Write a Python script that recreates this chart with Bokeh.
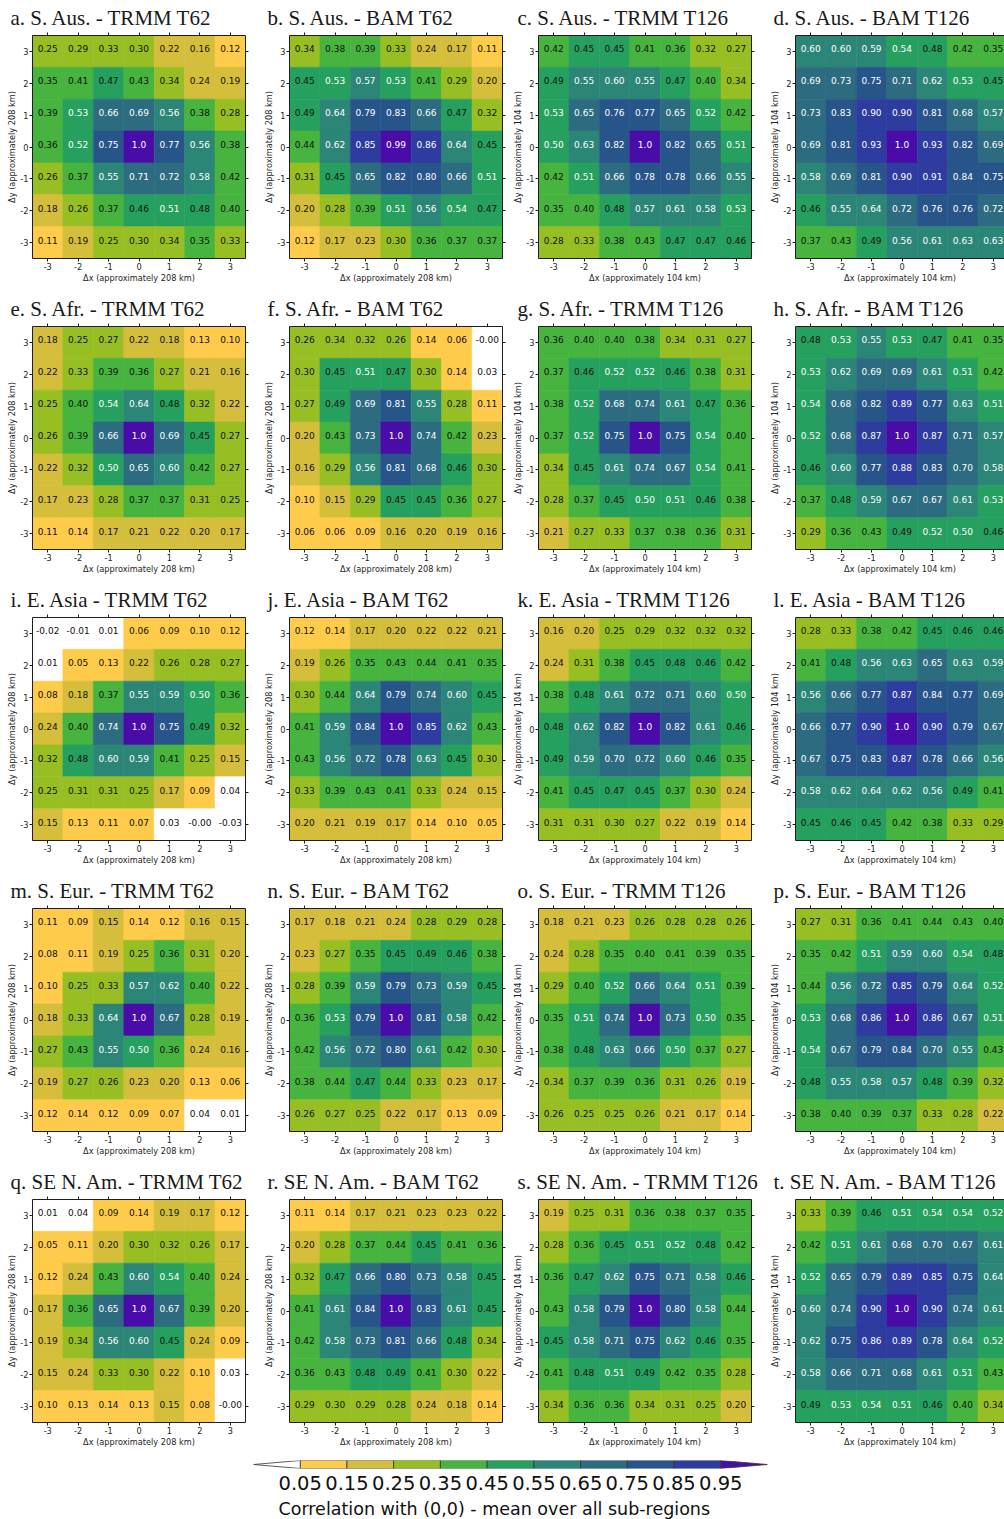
import bisect

from bokeh.core.properties import value
from bokeh.embed import file_html
from bokeh.layouts import column, row
from bokeh.models import ColumnDataSource, FixedTicker, LinearAxis, NumeralTickFormatter, Range1d, Title
from bokeh.plotting import figure
from bokeh.resources import INLINE

# grid offsets (in grid boxes) from the central box
offsets = [-3, -2, -1, 0, 1, 2, 3]
offset_labels = ["-3", "-2", "-1", "0", "1", "2", "3"]

# colour bands: below 0.05, one per 0.1-wide band, above 0.95
levels = [0.05, 0.15, 0.25, 0.35, 0.45, 0.55, 0.65, 0.75, 0.85, 0.95]
band_colors = ["#ffffff", "#fecb4a", "#d4be3c", "#97bf24", "#46b43f", "#26a05f",
               "#2c8677", "#2c6b80", "#27558a", "#2d3c9e", "#4a0ca8"]

titles = [
    "a. S. Aus. - TRMM T62", "b. S. Aus. - BAM T62", "c. S. Aus. - TRMM T126", "d. S. Aus. - BAM T126",
    "e. S. Afr. - TRMM T62", "f. S. Afr. - BAM T62", "g. S. Afr. - TRMM T126", "h. S. Afr. - BAM T126",
    "i. E. Asia - TRMM T62", "j. E. Asia - BAM T62", "k. E. Asia - TRMM T126", "l. E. Asia - BAM T126",
    "m. S. Eur. - TRMM T62", "n. S. Eur. - BAM T62", "o. S. Eur. - TRMM T126", "p. S. Eur. - BAM T126",
    "q. SE N. Am. - TRMM T62", "r. SE N. Am. - BAM T62", "s. SE N. Am. - TRMM T126", "t. SE N. Am. - BAM T126",
]
box_km = [208, 208, 104, 104]
colorbar_caption = "Correlation with (0,0) - mean over all sub-regions"

# correlation grids, rows from dy=3 (top) down to dy=-3, columns dx=-3..3
s_aus_trmm_t62 = [
    [0.25, 0.29, 0.33, 0.30, 0.22, 0.16, 0.12],
    [0.35, 0.41, 0.47, 0.43, 0.34, 0.24, 0.19],
    [0.39, 0.53, 0.66, 0.69, 0.56, 0.38, 0.28],
    [0.36, 0.52, 0.75, 1.0, 0.77, 0.56, 0.38],
    [0.26, 0.37, 0.55, 0.71, 0.72, 0.58, 0.42],
    [0.18, 0.26, 0.37, 0.46, 0.51, 0.48, 0.40],
    [0.11, 0.19, 0.25, 0.30, 0.34, 0.35, 0.33],
]
s_aus_bam_t62 = [
    [0.34, 0.38, 0.39, 0.33, 0.24, 0.17, 0.11],
    [0.45, 0.53, 0.57, 0.53, 0.41, 0.29, 0.20],
    [0.49, 0.64, 0.79, 0.83, 0.66, 0.47, 0.32],
    [0.44, 0.62, 0.85, 0.99, 0.86, 0.64, 0.45],
    [0.31, 0.45, 0.65, 0.82, 0.80, 0.66, 0.51],
    [0.20, 0.28, 0.39, 0.51, 0.56, 0.54, 0.47],
    [0.12, 0.17, 0.23, 0.30, 0.36, 0.37, 0.37],
]
s_aus_trmm_t126 = [
    [0.42, 0.45, 0.45, 0.41, 0.36, 0.32, 0.27],
    [0.49, 0.55, 0.60, 0.55, 0.47, 0.40, 0.34],
    [0.53, 0.65, 0.76, 0.77, 0.65, 0.52, 0.42],
    [0.50, 0.63, 0.82, 1.0, 0.82, 0.65, 0.51],
    [0.42, 0.51, 0.66, 0.78, 0.78, 0.66, 0.55],
    [0.35, 0.40, 0.48, 0.57, 0.61, 0.58, 0.53],
    [0.28, 0.33, 0.38, 0.43, 0.47, 0.47, 0.46],
]
s_aus_bam_t126 = [
    [0.60, 0.60, 0.59, 0.54, 0.48, 0.42, 0.35],
    [0.69, 0.73, 0.75, 0.71, 0.62, 0.53, 0.45],
    [0.73, 0.83, 0.90, 0.90, 0.81, 0.68, 0.57],
    [0.69, 0.81, 0.93, 1.0, 0.93, 0.82, 0.69],
    [0.58, 0.69, 0.81, 0.90, 0.91, 0.84, 0.75],
    [0.46, 0.55, 0.64, 0.72, 0.76, 0.76, 0.72],
    [0.37, 0.43, 0.49, 0.56, 0.61, 0.63, 0.63],
]
s_afr_trmm_t62 = [
    [0.18, 0.25, 0.27, 0.22, 0.18, 0.13, 0.10],
    [0.22, 0.33, 0.39, 0.36, 0.27, 0.21, 0.16],
    [0.25, 0.40, 0.54, 0.64, 0.48, 0.32, 0.22],
    [0.26, 0.39, 0.66, 1.0, 0.69, 0.45, 0.27],
    [0.22, 0.32, 0.50, 0.65, 0.60, 0.42, 0.27],
    [0.17, 0.23, 0.28, 0.37, 0.37, 0.31, 0.25],
    [0.11, 0.14, 0.17, 0.21, 0.22, 0.20, 0.17],
]
s_afr_bam_t62 = [
    [0.26, 0.34, 0.32, 0.26, 0.14, 0.06, -0.0],
    [0.30, 0.45, 0.51, 0.47, 0.30, 0.14, 0.03],
    [0.27, 0.49, 0.69, 0.81, 0.55, 0.28, 0.11],
    [0.20, 0.43, 0.73, 1.0, 0.74, 0.42, 0.23],
    [0.16, 0.29, 0.56, 0.81, 0.68, 0.46, 0.30],
    [0.10, 0.15, 0.29, 0.45, 0.45, 0.36, 0.27],
    [0.06, 0.06, 0.09, 0.16, 0.20, 0.19, 0.16],
]
s_afr_trmm_t126 = [
    [0.36, 0.40, 0.40, 0.38, 0.34, 0.31, 0.27],
    [0.37, 0.46, 0.52, 0.52, 0.46, 0.38, 0.31],
    [0.38, 0.52, 0.68, 0.74, 0.61, 0.47, 0.36],
    [0.37, 0.52, 0.75, 1.0, 0.75, 0.54, 0.40],
    [0.34, 0.45, 0.61, 0.74, 0.67, 0.54, 0.41],
    [0.28, 0.37, 0.45, 0.50, 0.51, 0.46, 0.38],
    [0.21, 0.27, 0.33, 0.37, 0.38, 0.36, 0.31],
]
s_afr_bam_t126 = [
    [0.48, 0.53, 0.55, 0.53, 0.47, 0.41, 0.35],
    [0.53, 0.62, 0.69, 0.69, 0.61, 0.51, 0.42],
    [0.54, 0.68, 0.82, 0.89, 0.77, 0.63, 0.51],
    [0.52, 0.68, 0.87, 1.0, 0.87, 0.71, 0.57],
    [0.46, 0.60, 0.77, 0.88, 0.83, 0.70, 0.58],
    [0.37, 0.48, 0.59, 0.67, 0.67, 0.61, 0.53],
    [0.29, 0.36, 0.43, 0.49, 0.52, 0.50, 0.46],
]
e_asia_trmm_t62 = [
    [-0.02, -0.01, 0.01, 0.06, 0.09, 0.10, 0.12],
    [0.01, 0.05, 0.13, 0.22, 0.26, 0.28, 0.27],
    [0.08, 0.18, 0.37, 0.55, 0.59, 0.50, 0.36],
    [0.24, 0.40, 0.74, 1.0, 0.75, 0.49, 0.32],
    [0.32, 0.48, 0.60, 0.59, 0.41, 0.25, 0.15],
    [0.25, 0.31, 0.31, 0.25, 0.17, 0.09, 0.04],
    [0.15, 0.13, 0.11, 0.07, 0.03, -0.0, -0.03],
]
e_asia_bam_t62 = [
    [0.12, 0.14, 0.17, 0.20, 0.22, 0.22, 0.21],
    [0.19, 0.26, 0.35, 0.43, 0.44, 0.41, 0.35],
    [0.30, 0.44, 0.64, 0.79, 0.74, 0.60, 0.45],
    [0.41, 0.59, 0.84, 1.0, 0.85, 0.62, 0.43],
    [0.43, 0.56, 0.72, 0.78, 0.63, 0.45, 0.30],
    [0.33, 0.39, 0.43, 0.41, 0.33, 0.24, 0.15],
    [0.20, 0.21, 0.19, 0.17, 0.14, 0.10, 0.05],
]
e_asia_trmm_t126 = [
    [0.16, 0.20, 0.25, 0.29, 0.32, 0.32, 0.32],
    [0.24, 0.31, 0.38, 0.45, 0.48, 0.46, 0.42],
    [0.38, 0.48, 0.61, 0.72, 0.71, 0.60, 0.50],
    [0.48, 0.62, 0.82, 1.0, 0.82, 0.61, 0.46],
    [0.49, 0.59, 0.70, 0.72, 0.60, 0.46, 0.35],
    [0.41, 0.45, 0.47, 0.45, 0.37, 0.30, 0.24],
    [0.31, 0.31, 0.30, 0.27, 0.22, 0.19, 0.14],
]
e_asia_bam_t126 = [
    [0.28, 0.33, 0.38, 0.42, 0.45, 0.46, 0.46],
    [0.41, 0.48, 0.56, 0.63, 0.65, 0.63, 0.59],
    [0.56, 0.66, 0.77, 0.87, 0.84, 0.77, 0.69],
    [0.66, 0.77, 0.90, 1.0, 0.90, 0.79, 0.67],
    [0.67, 0.75, 0.83, 0.87, 0.78, 0.66, 0.56],
    [0.58, 0.62, 0.64, 0.62, 0.56, 0.49, 0.41],
    [0.45, 0.46, 0.45, 0.42, 0.38, 0.33, 0.29],
]
s_eur_trmm_t62 = [
    [0.11, 0.09, 0.15, 0.14, 0.12, 0.16, 0.15],
    [0.08, 0.11, 0.19, 0.25, 0.36, 0.31, 0.20],
    [0.10, 0.25, 0.33, 0.57, 0.62, 0.40, 0.22],
    [0.18, 0.33, 0.64, 1.0, 0.67, 0.28, 0.19],
    [0.27, 0.43, 0.55, 0.50, 0.36, 0.24, 0.16],
    [0.19, 0.27, 0.26, 0.23, 0.20, 0.13, 0.06],
    [0.12, 0.14, 0.12, 0.09, 0.07, 0.04, 0.01],
]
s_eur_bam_t62 = [
    [0.17, 0.18, 0.21, 0.24, 0.28, 0.29, 0.28],
    [0.23, 0.27, 0.35, 0.45, 0.49, 0.46, 0.38],
    [0.28, 0.39, 0.59, 0.79, 0.73, 0.59, 0.45],
    [0.36, 0.53, 0.79, 1.0, 0.81, 0.58, 0.42],
    [0.42, 0.56, 0.72, 0.80, 0.61, 0.42, 0.30],
    [0.38, 0.44, 0.47, 0.44, 0.33, 0.23, 0.17],
    [0.26, 0.27, 0.25, 0.22, 0.17, 0.13, 0.09],
]
s_eur_trmm_t126 = [
    [0.18, 0.21, 0.23, 0.26, 0.28, 0.28, 0.26],
    [0.24, 0.28, 0.35, 0.40, 0.41, 0.39, 0.35],
    [0.29, 0.40, 0.52, 0.66, 0.64, 0.51, 0.39],
    [0.35, 0.51, 0.74, 1.0, 0.73, 0.50, 0.35],
    [0.38, 0.48, 0.63, 0.66, 0.50, 0.37, 0.27],
    [0.34, 0.37, 0.39, 0.36, 0.31, 0.26, 0.19],
    [0.26, 0.25, 0.25, 0.26, 0.21, 0.17, 0.14],
]
s_eur_bam_t126 = [
    [0.27, 0.31, 0.36, 0.41, 0.44, 0.43, 0.40],
    [0.35, 0.42, 0.51, 0.59, 0.60, 0.54, 0.48],
    [0.44, 0.56, 0.72, 0.85, 0.79, 0.64, 0.52],
    [0.53, 0.68, 0.86, 1.0, 0.86, 0.67, 0.51],
    [0.54, 0.67, 0.79, 0.84, 0.70, 0.55, 0.43],
    [0.48, 0.55, 0.58, 0.57, 0.48, 0.39, 0.32],
    [0.38, 0.40, 0.39, 0.37, 0.33, 0.28, 0.22],
]
se_nam_trmm_t62 = [
    [0.01, 0.04, 0.09, 0.14, 0.19, 0.17, 0.12],
    [0.05, 0.11, 0.20, 0.30, 0.32, 0.26, 0.17],
    [0.12, 0.24, 0.43, 0.60, 0.54, 0.40, 0.24],
    [0.17, 0.36, 0.65, 1.0, 0.67, 0.39, 0.20],
    [0.19, 0.34, 0.56, 0.60, 0.45, 0.24, 0.09],
    [0.15, 0.24, 0.33, 0.30, 0.22, 0.10, 0.03],
    [0.10, 0.13, 0.14, 0.13, 0.15, 0.08, -0.0],
]
se_nam_bam_t62 = [
    [0.11, 0.14, 0.17, 0.21, 0.23, 0.23, 0.22],
    [0.20, 0.28, 0.37, 0.44, 0.45, 0.41, 0.36],
    [0.32, 0.47, 0.66, 0.80, 0.73, 0.58, 0.45],
    [0.41, 0.61, 0.84, 1.0, 0.83, 0.61, 0.45],
    [0.42, 0.58, 0.73, 0.81, 0.66, 0.48, 0.34],
    [0.36, 0.43, 0.48, 0.49, 0.41, 0.30, 0.22],
    [0.29, 0.30, 0.29, 0.28, 0.24, 0.18, 0.14],
]
se_nam_trmm_t126 = [
    [0.19, 0.25, 0.31, 0.36, 0.38, 0.37, 0.35],
    [0.28, 0.36, 0.45, 0.51, 0.52, 0.48, 0.42],
    [0.36, 0.47, 0.62, 0.75, 0.71, 0.58, 0.46],
    [0.43, 0.58, 0.79, 1.0, 0.80, 0.58, 0.44],
    [0.45, 0.58, 0.71, 0.75, 0.62, 0.46, 0.35],
    [0.41, 0.48, 0.51, 0.49, 0.42, 0.35, 0.28],
    [0.34, 0.36, 0.36, 0.34, 0.31, 0.25, 0.20],
]
se_nam_bam_t126 = [
    [0.33, 0.39, 0.46, 0.51, 0.54, 0.54, 0.52],
    [0.42, 0.51, 0.61, 0.68, 0.70, 0.67, 0.61],
    [0.52, 0.65, 0.79, 0.89, 0.85, 0.75, 0.64],
    [0.60, 0.74, 0.90, 1.0, 0.90, 0.74, 0.61],
    [0.62, 0.75, 0.86, 0.89, 0.78, 0.64, 0.52],
    [0.58, 0.66, 0.71, 0.68, 0.61, 0.51, 0.43],
    [0.49, 0.53, 0.54, 0.51, 0.46, 0.40, 0.34],
]

grids = [
    s_aus_trmm_t62, s_aus_bam_t62, s_aus_trmm_t126, s_aus_bam_t126,
    s_afr_trmm_t62, s_afr_bam_t62, s_afr_trmm_t126, s_afr_bam_t126,
    e_asia_trmm_t62, e_asia_bam_t62, e_asia_trmm_t126, e_asia_bam_t126,
    s_eur_trmm_t62, s_eur_bam_t62, s_eur_trmm_t126, s_eur_bam_t126,
    se_nam_trmm_t62, se_nam_bam_t62, se_nam_trmm_t126, se_nam_bam_t126,
]

INK = "#1e1e1e"
SANS = "DejaVu Sans"
FRAME_W = 213
FRAME_H = 223
CELL_PX = FRAME_W / 7.0
LEFT_BORDER = 32
RIGHT_BORDER = [12, 4, 12, 0]
TITLE_OFFSET = [-22, -22, -21, -22]


def band_color(v):
    return band_colors[bisect.bisect_right(levels, v)]


def label_for(v):
    return "1.0" if v == 1.0 else f"{v:.2f}"


def style_axis(ax, labelled):
    ax.ticker = FixedTicker(ticks=offsets)
    ax.minor_tick_line_color = None
    ax.major_tick_in = 0
    ax.major_tick_out = 3
    ax.axis_line_color = INK
    ax.axis_line_width = 1
    ax.major_tick_line_color = INK
    if labelled:
        ax.major_label_overrides = dict(zip(offsets, offset_labels))
        ax.major_label_text_font = SANS
        ax.major_label_text_font_size = "8.2px"
        ax.major_label_text_color = INK
        ax.major_label_standoff = 1
        ax.axis_label_text_font = SANS
        ax.axis_label_text_font_size = "8.2px"
        ax.axis_label_text_font_style = "normal"
        ax.axis_label_text_color = INK
        ax.axis_label_standoff = 0
    else:
        # tick marks only on the top and right edges
        ax.major_label_text_color = None
        ax.major_label_text_font_size = "1px"
        ax.major_label_standoff = 0


def make_panel(idx):
    col = idx % 4
    grid = grids[idx]
    km = box_km[col]
    frame_w = FRAME_W if col < 3 else 1004 - 763 - LEFT_BORDER
    x_end = -3.5 + frame_w / CELL_PX
    p = figure(
        frame_width=frame_w, frame_height=FRAME_H,
        x_range=Range1d(-3.5, x_end), y_range=Range1d(-3.5, 3.5),
        min_border_left=LEFT_BORDER, min_border_right=RIGHT_BORDER[col],
        min_border_top=35, min_border_bottom=33,
        output_backend="svg", toolbar_location=None, tools="",
        background_fill_color="white", border_fill_color="white",
        outline_line_color=None,
    )
    p.grid.visible = False

    xs, ys, fills, labels, text_colors = [], [], [], [], []
    for r, vals in enumerate(grid):
        for c, v in enumerate(vals):
            xs.append(offsets[c])
            ys.append(offsets[6 - r])
            fills.append(band_color(v))
            labels.append(label_for(v))
            text_colors.append("#ffffff" if v >= 0.5 else "#111111")
    src = ColumnDataSource(dict(x=xs, y=ys, fill=fills, label=labels, tc=text_colors))

    p.rect(x="x", y="y", width=1, height=1, fill_color="fill", line_color="fill",
           line_width=0.6, source=src)
    p.text(x="x", y="y", text="label", text_color="tc", text_align="center",
           text_baseline="middle", y_offset=-2.5, text_font=value(SANS),
           text_font_size="9px", source=src)

    p.xaxis.axis_label = f"\u0394x (approximately {km} km)"
    p.yaxis.axis_label = f"\u0394y (approximately {km} km)"
    style_axis(p.xaxis[0], True)
    style_axis(p.yaxis[0], True)

    top = LinearAxis()
    style_axis(top, False)
    p.add_layout(top, "above")
    if col < 3:
        right = LinearAxis()
        style_axis(right, False)
        p.add_layout(right, "right")

    p.title.text = titles[idx]
    p.title.text_font = "Liberation Serif"
    p.title.text_font_size = "21px"
    p.title.text_font_style = "normal"
    p.title.text_color = "#1a1a1a"
    p.title.align = "left"
    p.title.offset = TITLE_OFFSET[col]
    p.title.standoff = 6
    return p


panel_rows = []
for r in range(5):
    panel_rows.append(row(*[make_panel(4 * r + c) for c in range(4)], spacing=0))

# colour bar with triangular extensions at both ends
band = levels[1] - levels[0]
cb = figure(
    frame_width=514, frame_height=8,
    x_range=Range1d(levels[0] - band, levels[-1] + band), y_range=Range1d(0, 1),
    min_border_left=253, min_border_right=237, min_border_top=5, min_border_bottom=51,
    output_backend="svg", toolbar_location=None, tools="",
    background_fill_color="white", border_fill_color="white", outline_line_color=None,
)
cb.grid.visible = False
cb.yaxis.visible = False
cb.quad(left=levels[:-1], right=levels[1:], bottom=0, top=1,
        fill_color=band_colors[1:-1], line_color="#333333", line_width=0.8)
cb.patch([levels[0], levels[0] - band, levels[0]], [0, 0.5, 1],
         fill_color=band_colors[0], line_color="#333333", line_width=0.8)
cb.patch([levels[-1], levels[-1] + band, levels[-1]], [0, 0.5, 1],
         fill_color=band_colors[-1], line_color="#333333", line_width=0.8)
ax = cb.xaxis[0]
ax.ticker = FixedTicker(ticks=levels)
ax.formatter = NumeralTickFormatter(format="0.00")
ax.major_tick_in = 0
ax.major_tick_out = 0
ax.minor_tick_line_color = None
ax.axis_line_color = None
ax.major_label_text_font = SANS
ax.major_label_text_font_size = "19.5px"
ax.major_label_text_color = "#111111"
ax.major_label_standoff = 7

# caption under the tick labels, starting level with the first tick label
cb.add_layout(Title(
    text=colorbar_caption, align="left", offset=25, standoff=8,
    text_font=SANS, text_font_size="17.5px", text_font_style="normal",
    text_color="#111111",
), "below")

page = column(*panel_rows, cb, spacing=0)

with open("out.html", "w") as fh:
    fh.write(file_html(page, INLINE))
